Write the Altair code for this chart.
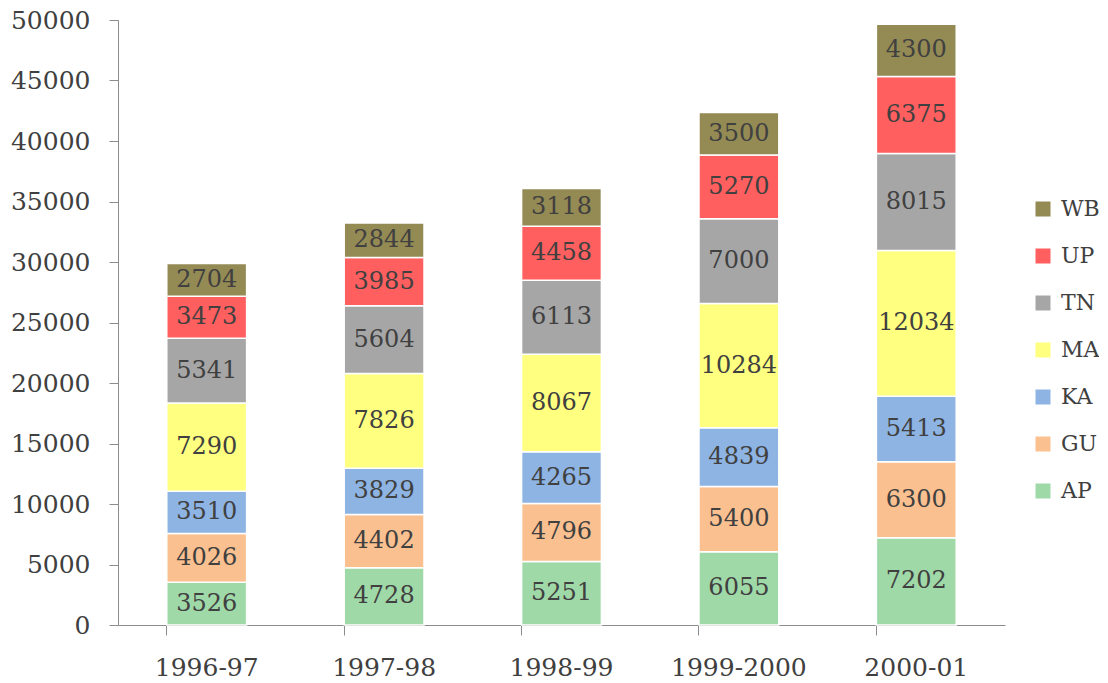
import altair as alt
import pandas as pd

years = ["1996-97", "1997-98", "1998-99", "1999-2000", "2000-01"]
series = ["AP", "GU", "KA", "MA", "TN", "UP", "WB"]
AP = [3526, 4728, 5251, 6055, 7202]
GU = [4026, 4402, 4796, 5400, 6300]
KA = [3510, 3829, 4265, 4839, 5413]
MA = [7290, 7826, 8067, 10284, 12034]
TN = [5341, 5604, 6113, 7000, 8015]
UP = [3473, 3985, 4458, 5270, 6375]
WB = [2704, 2844, 3118, 3500, 4300]
colors = {"WB": "#948A54", "UP": "#FF5F5F", "TN": "#A6A6A6", "MA": "#FFFF80",
          "KA": "#8EB4E3", "GU": "#FAC090", "AP": "#A0D9A8"}

vals = {"AP": AP, "GU": GU, "KA": KA, "MA": MA, "TN": TN, "UP": UP, "WB": WB}
rows = []
for i, s in enumerate(series):
    for j, y in enumerate(years):
        rows.append({"year": y, "state": s, "value": vals[s][j], "order": i})
df = pd.DataFrame(rows)

font = "DejaVu Serif"
legend_order = list(reversed(series))

base = alt.Chart(df).transform_stack(
    stack="value", groupby=["year"], as_=["y0", "y1"],
    sort=[alt.SortField("order", order="ascending")]
).transform_calculate(mid="(datum.y0 + datum.y1) / 2")

xenc = alt.X("year:N", sort=years, title=None,
             scale=alt.Scale(paddingInner=0.55, paddingOuter=0.275),
             axis=alt.Axis(labelAngle=0, bandPosition=0, tickSize=10, labelPadding=20,
                           labelFont=font, labelFontSize=25, labelColor="#404040",
                           domainColor="#8c8c8c", tickColor="#8c8c8c", grid=False))

bars = base.mark_bar(stroke="white", strokeWidth=1.5).encode(
    x=xenc,
    y=alt.Y("y0:Q", title=None, scale=alt.Scale(domain=[0, 50000], nice=False),
            axis=alt.Axis(values=list(range(0, 50001, 5000)), format="d", tickSize=9,
                          labelPadding=19,
                          labelFont=font, labelFontSize=25, labelColor="#404040",
                          domainColor="#8c8c8c", tickColor="#8c8c8c", grid=False)),
    y2="y1:Q",
    color=alt.Color("state:N", scale=alt.Scale(domain=legend_order,
                                                range=[colors[s] for s in legend_order]),
                    legend=alt.Legend(title=None, orient="none", legendX=914, legendY=178,
                                      symbolType="square", symbolSize=225, symbolStrokeWidth=0,
                                      labelFont=font, labelFontSize=22, labelColor="#404040",
                                      rowPadding=25, labelOffset=7)),
)

labels = base.mark_text(font=font, fontSize=24, color="#404040").encode(
    x=alt.X("year:N", sort=years),
    y=alt.Y("mid:Q"),
    text=alt.Text("value:Q", format="d"),
)

chart = (bars + labels).properties(
    width=887, height=605,
    autosize=alt.AutoSizeParams(type="none"),
    padding={"left": 110, "top": 12, "right": 94, "bottom": 58},
).configure_view(stroke=None)
chart.save("out.html", embed_options={"renderer": "svg", "actions": False})
